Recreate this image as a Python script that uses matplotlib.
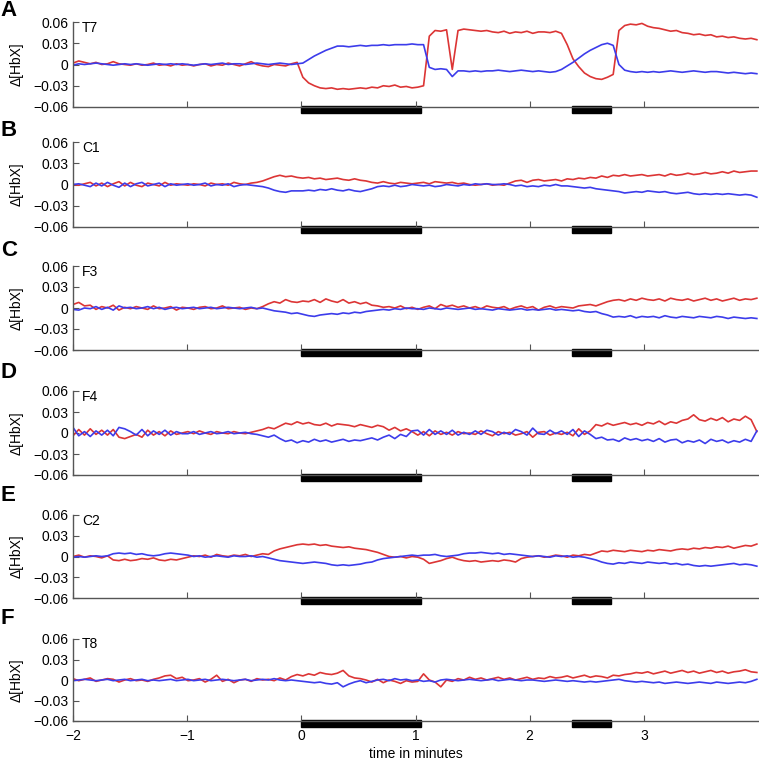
import numpy as np
import matplotlib
matplotlib.use("Agg")
import matplotlib.pyplot as plt
from matplotlib.patches import Rectangle

plt.rcParams['font.family'] = ['Liberation Sans', 'DejaVu Sans']

# time axis in minutes, one reading every ~0.05 min
t = np.linspace(-2, 3.99, 120)

letters = ['A', 'B', 'C', 'D', 'E', 'F']
channels = ['T7', 'C1', 'F3', 'F4', 'C2', 'T8']

# stimulation blocks (minutes)
block_start = [0.0, 2.37]
block_end = [1.05, 2.71]

# all series in units of 0.001 (delta HbX)
t7_red = [2, 5, 3, 1, 3, 0, 1, 4, 1, 0,
          -1, 1, -1, 0, 2, -1, 0, -2, 1, -1,
          0, -2, 0, 1, -2, 0, -1, 2, 0, -2,
          1, 4, 0, -2, -3, 0, -1, -2, 1, 3,
          -18, -26, -30, -33, -34, -33, -35, -34, -35, -34,
          -33, -34, -32, -33, -30, -31, -29, -32, -31, -33,
          -32, -30, 40, 48, 47, 49, -7, 48, 50, 49,
          48, 47, 48, 46, 45, 47, 44, 46, 45, 47,
          44, 46, 46, 45, 47, 44, 28, 8, -3, -12,
          -17, -20, -21, -18, -14, 48, 55, 57, 56, 58,
          54, 52, 51, 49, 47, 48, 45, 44, 42, 43,
          41, 42, 39, 40, 38, 39, 37, 36, 37, 35]
t7_blue = [-1, 1, 0, 1, 2, 1, 0, -1, 0, 1,
           0, 1, 0, -1, 0, 1, 0, 1, 0, 1,
           0, -1, 0, 1, 0, 1, 2, 0, 1, 1,
           0, 1, 2, 1, 0, 1, 2, 1, 0, 1,
           2, 7, 12, 16, 20, 23, 26, 26, 25, 26,
           27, 26, 27, 27, 28, 27, 28, 28, 28, 29,
           28, 28, -4, -7, -6, -7, -17, -9, -9, -10,
           -9, -10, -9, -9, -8, -9, -10, -9, -8, -9,
           -10, -9, -10, -11, -10, -7, -2, 3, 9, 15,
           20, 24, 28, 30, 27, 0, -8, -10, -11, -10,
           -11, -10, -11, -10, -9, -10, -11, -10, -9, -10,
           -11, -10, -10, -11, -12, -11, -12, -13, -12, -13]

c1_red = [0, -1, 1, 3, -2, 2, -3, 1, 4, -2,
          3, -1, -3, 2, 0, -2, 3, -1, 1, 0,
          -1, 1, 0, -2, 2, 0, 1, -1, 3, 1,
          0, 2, 3, 5, 8, 11, 13, 11, 12, 10,
          9, 10, 8, 9, 7, 8, 9, 7, 6, 8,
          6, 5, 3, 2, 4, 2, 1, 3, 2, 1,
          2, 3, 1, 4, 3, 2, 3, 1, 2, 0,
          -1, 0, 1, -1, 0, -1, 2, 5, 6, 3,
          6, 7, 5, 6, 7, 5, 8, 7, 9, 8,
          10, 9, 12, 10, 13, 12, 14, 12, 13, 14,
          12, 13, 14, 12, 15, 13, 14, 16, 14, 15,
          17, 15, 16, 18, 16, 19, 17, 18, 19, 19]
c1_blue = [0, 1, -1, -3, 2, -2, 3, -1, -4, 2,
           -3, 1, 3, -2, 0, 2, -3, 1, -1, 0,
           1, -1, 0, 2, -2, 0, -1, 1, -3, -1,
           0, -1, -2, -3, -5, -8, -10, -11, -9, -9,
           -9, -8, -9, -7, -8, -6, -8, -9, -7, -9,
           -10, -8, -6, -3, -2, -3, -1, -3, -2, 0,
           -1, -2, -1, -3, -2, 0, -1, -2, 0, -1,
           1, 0, 1, 0, 0, 1, 0, -2, -1, -3,
           -2, -3, -1, -2, 0, -2, -2, -3, -4, -5,
           -4, -6, -7, -8, -9, -10, -12, -11, -10, -11,
           -9, -10, -11, -10, -12, -13, -12, -11, -13, -14,
           -13, -14, -13, -14, -13, -14, -15, -14, -15, -18]

f3_red = [5, 8, 3, 4, -2, 2, 0, 4, -3, 1,
          -1, 2, 0, -2, 3, -1, 0, 2, -3, 1,
          0, -2, 1, 2, -1, 0, 3, -1, 0, 1,
          -2, 0, -1, 2, 6, 9, 7, 12, 9, 8,
          10, 9, 12, 8, 13, 10, 8, 12, 7, 9,
          6, 8, 4, 3, 1, 2, 0, 3, -1, 1,
          -2, 1, 3, -1, 5, 2, 4, 1, 3, 0,
          2, -1, 3, 1, 0, 2, -2, 1, 3, 0,
          2, -3, 1, 3, 0, 2, 1, 0, 3, 4,
          5, 3, 6, 9, 11, 12, 10, 13, 11, 14,
          12, 11, 13, 10, 14, 12, 11, 13, 10, 12,
          14, 11, 13, 10, 12, 14, 11, 13, 12, 14]
f3_blue = [-2, -3, 0, -1, 2, -2, 1, -3, 3, 0,
           1, -1, 0, 2, -1, 1, -2, 0, 1, -1,
           0, 1, -1, 0, 1, -1, 0, 1, 0, -1,
           0, 1, -1, 0, -2, -4, -5, -6, -8, -7,
           -9, -11, -12, -10, -9, -8, -9, -7, -8, -6,
           -7, -5, -4, -3, -2, -3, -1, -2, 0, -1,
           -1, -2, 0, -1, -2, 0, -1, -2, -1, 0,
           -2, -1, -2, -3, -1, -2, -3, -2, -1, -3,
           -2, -3, -2, -1, -3, -2, -3, -4, -3, -5,
           -6, -5, -8, -10, -13, -12, -13, -11, -14, -12,
           -13, -12, -14, -11, -13, -14, -12, -13, -14, -12,
           -13, -14, -12, -13, -15, -13, -14, -15, -14, -15]

f4_red = [-4, 5, -3, 6, -2, 4, -3, 5, -6, -8,
          -5, -2, -6, 4, -3, 2, -4, 3, -2, 0,
          2, -1, 3, 0, -2, 2, 0, -1, 2, 0,
          -1, 1, 3, 5, 8, 6, 10, 14, 12, 16,
          13, 15, 12, 11, 14, 10, 13, 12, 11, 9,
          12, 10, 8, 11, 9, 4, 8, 3, 6, 2,
          -3, 2, -4, 3, -2, 1, -3, 2, -1, 0,
          -2, 3, -1, -4, 2, -1, 1, -3, -1, 2,
          -6, 1, 2, -3, 0, -2, 1, -4, 6, -2,
          3, 12, 10, 14, 11, 13, 15, 12, 14, 11,
          15, 13, 17, 12, 16, 14, 18, 20, 26, 19,
          17, 21, 18, 22, 16, 20, 18, 24, 19, 2]
f4_blue = [8, -4, 2, -5, 3, -3, 4, -4, 8, 6,
           2, -3, 5, -4, 3, -2, 4, -3, 2, -1,
           -1, 2, -2, 0, 2, -1, 0, 2, -1, 0,
           1, -1, -2, -4, -6, -3, -8, -12, -10, -14,
           -11, -13, -9, -12, -10, -13, -11, -9, -12, -10,
           -11, -9, -7, -10, -6, -3, -8, -2, -5, 3,
           4, -3, 5, -2, 3, -2, 4, -3, 1, -2,
           3, -2, 4, 2, -3, 1, -2, 5, 2, -3,
           7, -1, -2, 4, -1, 3, -2, 5, -5, 3,
           -2, -8, -6, -10, -9, -12, -7, -10, -8, -11,
           -9, -12, -8, -13, -10, -9, -14, -11, -13, -10,
           -15, -9, -12, -10, -14, -11, -13, -9, -12, 3]

c2_red = [0, 2, -1, 1, 0, -2, 1, -5, -6, -4,
          -6, -5, -3, -4, -2, -5, -6, -4, -5, -3,
          -1, 1, 0, 2, -1, 3, 1, 0, 2, 1,
          3, 0, 2, 4, 3, 8, 11, 13, 15, 17,
          18, 17, 18, 16, 17, 15, 14, 13, 14, 12,
          11, 10, 8, 6, 3, 0, -1, 0, -2, 0,
          -1, -4, -10, -8, -6, -3, -1, -4, -6, -7,
          -6, -8, -7, -6, -7, -5, -6, -8, -3, -1,
          0, 1, -1, 0, 2, 1, -1, 2, 1, 3,
          2, 5, 8, 7, 9, 8, 7, 9, 8, 7,
          9, 8, 10, 9, 8, 10, 11, 10, 12, 11,
          13, 12, 14, 13, 15, 12, 14, 16, 15, 18]
c2_blue = [-1, 0, -1, 0, 1, 0, 1, 4, 5, 4,
           5, 3, 4, 2, 1, 2, 4, 5, 4, 3,
           2, 0, 1, -1, 0, 1, 0, -1, 1, 0,
           0, 1, -1, 0, -2, -4, -6, -7, -8, -9,
           -10, -9, -8, -9, -10, -12, -13, -12, -13, -12,
           -11, -9, -8, -5, -3, -2, -1, 0, 1, 2,
           1, 2, 2, 3, 1, 0, 1, 2, 4, 5,
           5, 6, 5, 4, 5, 3, 4, 3, 2, 1,
           0, 1, 0, -1, 1, 0, 1, -1, 0, -1,
           -3, -5, -8, -10, -11, -9, -10, -8, -9, -10,
           -8, -9, -10, -9, -11, -10, -12, -11, -13, -14,
           -13, -14, -13, -12, -11, -10, -12, -11, -12, -14]

t8_red = [2, -1, 1, 3, -2, 0, 2, 1, -3, 0,
          2, -1, 0, -2, 1, 3, 6, 7, 2, 4,
          -1, 0, 2, -3, 1, 7, -2, 1, -4, 0,
          1, -2, 2, 0, 1, -1, 3, 0, 5, 8,
          6, 9, 7, 11, 9, 8, 10, 14, 6, 3,
          2, 0, -3, 1, -4, 0, -2, -5, -1, -3,
          -2, 9, 0, -3, -10, 0, -2, 2, 0, 4,
          1, 3, 0, 2, 4, 1, 3, 0, 2, 4,
          1, 3, 2, 5, 3, 4, 6, 3, 5, 7,
          4, 6, 5, 3, 7, 6, 8, 9, 11, 10,
          12, 9, 11, 13, 10, 12, 14, 11, 13, 10,
          12, 14, 11, 13, 10, 12, 13, 15, 12, 11]
t8_blue = [-1, 0, 1, 0, -1, 0, 1, -1, 0, 1,
           -1, 0, 1, -1, 0, -1, 0, 1, -1, 0,
           1, -1, 0, 1, -1, 0, 1, 0, -1, 0,
           1, -1, 0, 1, 0, 2, 0, -1, 0, -1,
           -2, -3, -4, -3, -5, -6, -4, -10, -6, -3,
           -1, -4, -2, 0, 1, -1, 2, 0, 1, -1,
           0, -2, -1, -3, 0, 1, 0, -1, 0, 1,
           0, -1, 0, 1, -1, 0, 1, 0, -1, 0,
           0, -1, -2, -1, 0, -1, -2, -1, -2, -3,
           -2, -3, -2, -1, 0, 1, -1, -2, -3, -2,
           -3, -4, -3, -5, -4, -3, -4, -5, -4, -3,
           -4, -5, -3, -4, -5, -4, -3, -4, -2, 1]

red_series = [t7_red, c1_red, f3_red, f4_red, c2_red, t8_red]
blue_series = [t7_blue, c1_blue, f3_blue, f4_blue, c2_blue, t8_blue]

RED = '#dc3535'
BLUE = '#3c3ceb'
AXC = '#555555'

W, H = 759, 763
fig = plt.figure(figsize=(W / 100, H / 100), dpi=100)

# pixel rows of each panel (top = 0.06, bottom = -0.06)
tops = [22, 142, 266, 391, 515, 639]
bottoms = [107, 227, 350, 475, 598, 721]
letter_y = [11, 131, 251, 372, 496, 619]
left_px, right_px = 73, 758

for i in range(6):
    ax = fig.add_axes([left_px / W, 1 - bottoms[i] / H,
                       (right_px - left_px) / W, (bottoms[i] - tops[i]) / H])
    ax.plot(t, np.array(red_series[i]) * 0.001, color=RED, lw=1.2)
    ax.plot(t, np.array(blue_series[i]) * 0.001, color=BLUE, lw=1.2)

    ax.set_xlim(-2, 4)
    ax.set_ylim(-0.06, 0.06)
    ax.set_yticks([-0.06, -0.03, 0, 0.03, 0.06])
    ax.set_yticklabels(['\u22120.06', '\u22120.03', '0', '0.03', '0.06'])
    ax.set_xticks([-2, -1, 0, 1, 2, 3])
    for s in ['top', 'right']:
        ax.spines[s].set_visible(False)
    for s in ['left', 'bottom']:
        ax.spines[s].set_color(AXC)
        ax.spines[s].set_linewidth(1.0)
    ax.tick_params(direction='in', length=4, width=0.8, color=AXC,
                   labelsize=10, pad=3.5)
    ax.set_ylabel('\u0394[HbX]', fontsize=10)
    ax.yaxis.set_label_coords(-0.072, 0.5)

    # stimulation blocks under the time axis
    for a, b in zip(block_start, block_end):
        ax.add_patch(Rectangle((a, -0.075), b - a, 0.085, color='black',
                               transform=ax.get_xaxis_transform(), clip_on=False))

    ax.text(-1.92, 0.052, channels[i], fontsize=10, va='center')
    fig.text(0.001, 1 - letter_y[i] / H, letters[i], fontsize=16,
             weight='bold', va='center')

    if i < 5:
        ax.set_xticklabels([])
    else:
        ax.set_xticklabels(['\u22122', '\u22121', '0', '1', '2', '3'])
        ax.tick_params(axis='x', pad=6)
        ax.set_xlabel('time in minutes', fontsize=10, labelpad=3)

fig.savefig('out.png', dpi=100)
